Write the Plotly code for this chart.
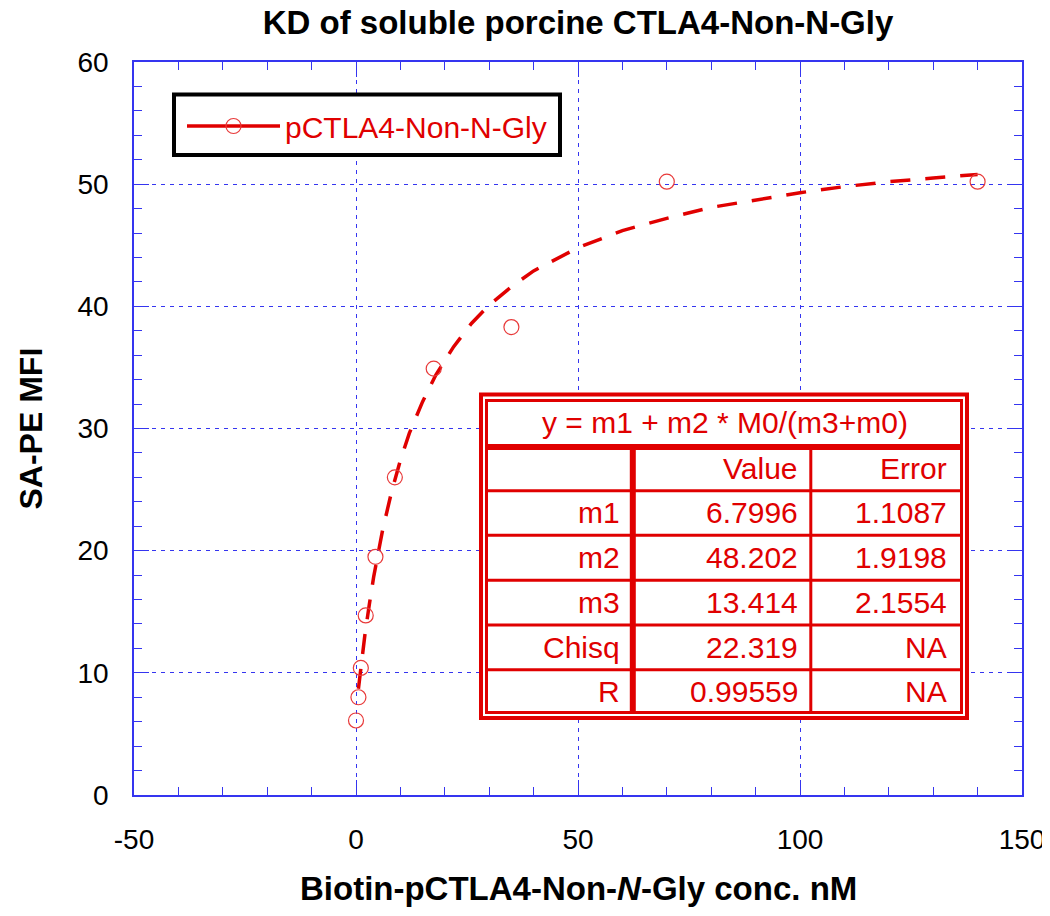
import plotly.graph_objects as go

# binding data (biotin-pCTLA4 conc. in nM vs SA-PE MFI)
conc = [0, 0.547, 1.09, 2.19, 4.38, 8.75, 17.5, 35, 70, 140]
mfi = [6.1, 8.0, 10.4, 14.7, 19.5, 26.0, 34.9, 38.3, 50.2, 50.2]

# fitted curve
fit_x = [0.55, 1, 2, 3, 4, 6, 8, 10, 12, 15, 18, 22, 26, 30, 35, 40,
         50, 60, 70, 80, 90, 100, 110, 120, 130, 140]
fit_y = [8.7, 10.1, 13.1, 15.6, 17.9, 21.7, 24.8, 27.4, 29.6, 32.2, 34.4, 36.7,
         38.6, 40.1, 41.6, 42.9, 44.8, 46.2, 47.2, 48.1, 48.7, 49.3, 49.8,
         50.2, 50.5, 50.8]

x_tickvals = [-50, 0, 50, 100, 150]
x_ticktext = ["-50", "0", "50", "100", "150"]

# fit results table
equation = "y = m1 + m2 * M0/(m3+m0)"
table_head = ["", "Value", "Error"]
param_names = ["m1", "m2", "m3", "Chisq", "R"]
param_values = ["6.7996", "48.202", "13.414", "22.319", "0.99559"]
param_errors = ["1.1087", "1.9198", "2.1554", "NA", "NA"]

RED = "#e00000"
BLUE = "#3535f0"
FONT = "Liberation Sans, Arial, sans-serif"

# the page body adds an 8px margin, so the figure is offset by 8px
W, H = 1042, 900
OFF = 8
# plot area in screen pixels, used to place the table / legend box
L, R, T, B = 134, 1022, 62, 795


def px(x):
    return (x - L) / (R - L)


def py(y):
    return (B - y) / (B - T)


fig = go.Figure()

fig.add_trace(go.Scatter(
    x=fit_x, y=fit_y, mode="lines",
    line=dict(color=RED, width=3.5, dash="20px,15px"),
    showlegend=False, hoverinfo="skip"))

fig.add_trace(go.Scatter(
    x=conc, y=mfi, mode="markers",
    marker=dict(symbol="circle-open", size=15, color="#e83a3a", line=dict(width=1.2)),
    showlegend=False))

# legend entry only
fig.add_trace(go.Scatter(
    x=[None], y=[None], mode="lines+markers", name="pCTLA4-Non-N-Gly",
    line=dict(color=RED, width=3.5, dash="solid"),
    marker=dict(symbol="circle-open", size=15, color="#e83a3a", line=dict(width=1.2))))

shapes = []

# legend box
shapes.append(dict(type="rect", xref="paper", yref="paper",
                   x0=px(174), x1=px(560), y0=py(155), y1=py(94.5),
                   line=dict(color="black", width=4), fillcolor="white", layer="above"))

# table frame (double border)
shapes.append(dict(type="rect", xref="paper", yref="paper",
                   x0=px(481), x1=px(967), y0=py(718), y1=py(394.5),
                   line=dict(color=RED, width=4), fillcolor="white", layer="above"))
shapes.append(dict(type="rect", xref="paper", yref="paper",
                   x0=px(486.5), x1=px(961.5), y0=py(712.5), y1=py(400.5),
                   line=dict(color=RED, width=3), fillcolor="rgba(0,0,0,0)", layer="above"))

row_lines = [(447, 6), (490.7, 3), (535.3, 3), (580.3, 3), (625, 3), (669.7, 3)]
for yy, w in row_lines:
    shapes.append(dict(type="line", xref="paper", yref="paper",
                       x0=px(486.5), x1=px(961.5), y0=py(yy), y1=py(yy),
                       line=dict(color=RED, width=w), layer="above"))

for xx, w in [(632.8, 6), (810.8, 3)]:
    shapes.append(dict(type="line", xref="paper", yref="paper",
                       x0=px(xx), x1=px(xx), y0=py(447), y1=py(712.5),
                       line=dict(color=RED, width=w), layer="above"))

annotations = []
tfont = dict(family=FONT, size=30, color=RED)

annotations.append(dict(xref="paper", yref="paper", x=px(725), y=py(422),
                        text=equation, showarrow=False, font=tfont,
                        xanchor="center", yanchor="middle"))

col_right = [622, 800, 949]
for j, h in enumerate(table_head):
    if h:
        annotations.append(dict(xref="paper", yref="paper", x=px(col_right[j]), y=py(468),
                                text=h, showarrow=False, font=tfont,
                                xanchor="right", yanchor="middle"))

row_y = [512, 557, 602, 647, 691]
for i in range(len(param_names)):
    for j, col in enumerate([param_names, param_values, param_errors]):
        annotations.append(dict(xref="paper", yref="paper", x=px(col_right[j]), y=py(row_y[i]),
                                text=col[i], showarrow=False, font=tfont,
                                xanchor="right", yanchor="middle"))

# axis titles
annotations.append(dict(xref="paper", yref="paper", x=0.5, y=py(888),
                        text="<b>Biotin-pCTLA4-Non-<i>N</i>-Gly conc. nM</b>",
                        showarrow=False, xanchor="center", yanchor="middle",
                        font=dict(family=FONT, size=33, color="black")))
annotations.append(dict(xref="paper", yref="paper", x=px(30), y=0.5,
                        text="<b>SA-PE MFI</b>", textangle=-90,
                        showarrow=False, xanchor="center", yanchor="middle",
                        font=dict(family=FONT, size=32, color="black")))

axis_common = dict(
    showline=True, linecolor=BLUE, linewidth=1.5, mirror="allticks",
    ticks="inside", ticklen=15, tickcolor=BLUE, tickwidth=1.2,
    showgrid=True, gridcolor=BLUE, gridwidth=1, griddash="4px,5px",
    zeroline=False, ticklabeloverflow="allow", automargin=False,
    tickfont=dict(family=FONT, size=28, color="black"),
)

fig.update_xaxes(range=[-50, 150], tickmode="array", tickvals=x_tickvals, ticktext=x_ticktext,
                 ticklabelstandoff=19,
                 minor=dict(tick0=0, dtick=10, ticks="inside", ticklen=8, tickcolor=BLUE,
                            showgrid=False),
                 **axis_common)
fig.update_yaxes(range=[0, 60], dtick=10, ticklabelstandoff=18,
                 minor=dict(dtick=2, ticks="inside", ticklen=8, tickcolor=BLUE, showgrid=False),
                 **axis_common)

fig.update_layout(
    width=W, height=H,
    margin=dict(l=L - OFF, r=W - (R - OFF), t=T - OFF, b=H - (B - OFF)),
    paper_bgcolor="white", plot_bgcolor="white",
    title=dict(text="<b>KD of soluble porcine CTLA4-Non-N-Gly</b>",
               x=0.5, xref="paper", y=1 - 3 / H, yref="container",
               xanchor="center", yanchor="top", pad=dict(t=0),
               font=dict(family=FONT, size=33, color="black")),
    showlegend=True,
    legend=dict(x=px(182), y=py(126), xanchor="left", yanchor="middle",
                bgcolor="rgba(0,0,0,0)", borderwidth=0, itemwidth=93,
                font=dict(family=FONT, size=30, color=RED)),
    shapes=shapes,
    annotations=annotations,
)

fig.write_html("out.html")
